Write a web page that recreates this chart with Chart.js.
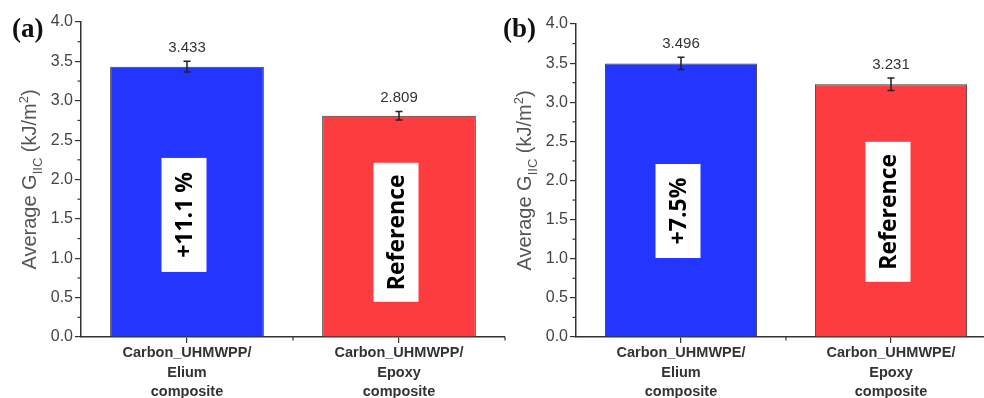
<!DOCTYPE html>
<html>
<head>
<meta charset="utf-8">
<script src="https://cdn.jsdelivr.net/npm/chart.js@4.4.0/dist/chart.umd.min.js"></script>
<style>
  html, body { margin: 0; padding: 0; background: #fff; overflow: hidden; }
  body { width: 984px; height: 398px; position: relative; }
  .panel { position: absolute; top: 0; }
  #wrapA { left: 0; width: 515px; height: 398px; }
  #wrapB { left: 495px; width: 520px; height: 398px; }
</style>
</head>
<body>
<div class="panel" id="wrapA"><canvas id="chartA"></canvas></div>
<div class="panel" id="wrapB"><canvas id="chartB"></canvas></div>
<script>
// data
const categoriesA = [
    ['Carbon_UHMWPP/', 'Elium', 'composite'],
    ['Carbon_UHMWPP/', 'Epoxy', 'composite'],
];
const categoriesB = [
    ['Carbon_UHMWPE/', 'Elium', 'composite'],
    ['Carbon_UHMWPE/', 'Epoxy', 'composite'],
];
const valuesA = [3.433, 2.809];
const valuesB = [3.496, 3.231];
const errorsA = [0.068, 0.055];
const errorsB = [0.078, 0.08];
const notesA = ['+11.1 %', 'Reference'];
const notesB = ['+7.5%', 'Reference'];
const yTicks = [0, 0.5, 1, 1.5, 2, 2.5, 3, 3.5, 4];

const barColors = ['rgb(34,54,255)', 'rgb(252,60,62)'];
const axisColor = '#333';

// note box placement: center (in axis units) and box size in px
const noteBoxA = [{ center: 1.55, h: 114 }, { center: 1.33, h: 139 }];
const noteBoxB = [{ center: 1.61, h: 94 }, { center: 1.60, h: 140 }];

const decorPlugin = {
    id: 'decor',
    afterDatasetsDraw(chart, args, opts) {
        const ctx = chart.ctx;
        const x = chart.scales.x, y = chart.scales.y;
        const meta = chart.getDatasetMeta(0);
        ctx.save();

        // minor ticks on y
        ctx.strokeStyle = axisColor;
        ctx.lineWidth = 1.2;
        for (let i = 0; i < yTicks.length - 1; i++) {
            const py = y.getPixelForValue((yTicks[i] + yTicks[i + 1]) / 2);
            ctx.beginPath();
            ctx.moveTo(x.left, py);
            ctx.lineTo(x.left - 3.5, py);
            ctx.stroke();
        }
        // minor ticks on x at category boundaries
        const n = opts.values.length;
        for (let i = 1; i <= n; i++) {
            const px = x.getPixelForValue(i - 0.5);
            ctx.beginPath();
            ctx.moveTo(px, y.bottom);
            ctx.lineTo(px, y.bottom + 3.5);
            ctx.stroke();
        }

        // error bars and value labels
        opts.values.forEach((v, i) => {
            const cx = meta.data[i].x;
            const top = y.getPixelForValue(v + opts.errors[i]);
            const bot = y.getPixelForValue(v - opts.errors[i]);
            ctx.strokeStyle = '#222';
            ctx.lineWidth = 1.5;
            ctx.beginPath();
            ctx.moveTo(cx, top); ctx.lineTo(cx, bot);
            ctx.moveTo(cx - 3.5, top); ctx.lineTo(cx + 3.5, top);
            ctx.moveTo(cx - 3.5, bot); ctx.lineTo(cx + 3.5, bot);
            ctx.stroke();

            ctx.fillStyle = '#333';
            ctx.font = '15px "Liberation Sans", Arial, sans-serif';
            ctx.textAlign = 'center';
            ctx.textBaseline = 'alphabetic';
            ctx.fillText(v.toFixed(3), cx, top - 9);
        });

        // white note boxes with rotated text
        opts.notes.forEach((txt, i) => {
            const cx = meta.data[i].x - 3;
            const box = opts.boxes[i];
            const cy = y.getPixelForValue(box.center);
            const w = 45;
            ctx.fillStyle = '#fff';
            ctx.fillRect(cx - w / 2, cy - box.h / 2, w, box.h);
            ctx.save();
            ctx.translate(cx, cy);
            ctx.rotate(-Math.PI / 2);
            ctx.fillStyle = '#000';
            ctx.font = 'bold 23px "Open Sans", "Noto Sans", sans-serif';
            ctx.textAlign = 'center';
            ctx.textBaseline = 'middle';
            ctx.fillText(txt, 0, 1);
            ctx.restore();
        });
        ctx.restore();
    },
    afterDraw(chart, args, opts) {
        const ctx = chart.ctx;
        const y = chart.scales.y;
        ctx.save();
        // y axis title with subscript / superscript
        const big = '20px "Liberation Sans", Arial, sans-serif';
        const small = '13px "Liberation Sans", Arial, sans-serif';
        const parts = [
            { t: 'Average G', f: big, dy: 0 },
            { t: 'IIC', f: small, dy: 6 },
            { t: ' (kJ/m', f: big, dy: 0 },
            { t: '2', f: small, dy: -8 },
            { t: ')', f: big, dy: 0 },
        ];
        let total = 0;
        parts.forEach(p => { ctx.font = p.f; p.w = ctx.measureText(p.t).width; total += p.w; });
        ctx.translate(36, (y.top + y.bottom) / 2);
        ctx.rotate(-Math.PI / 2);
        ctx.fillStyle = '#555';
        ctx.textBaseline = 'alphabetic';
        ctx.textAlign = 'left';
        let pos = -total / 2;
        parts.forEach(p => {
            ctx.font = p.f;
            ctx.fillText(p.t, pos, p.dy);
            pos += p.w;
        });
        ctx.restore();

        // panel label
        ctx.save();
        ctx.fillStyle = '#111';
        ctx.font = 'bold 27px "Liberation Serif", "Times New Roman", serif';
        ctx.textAlign = 'left';
        ctx.textBaseline = 'alphabetic';
        ctx.fillText(opts.panel, opts.panelX, 37);
        ctx.restore();
    }
};

function makePanel(canvasId, labels, values, errors, notes, boxes, panel, panelX, top, rightPad) {
    return new Chart(document.getElementById(canvasId), {
        type: 'bar',
        data: {
            labels: labels,
            datasets: [{
                data: values,
                backgroundColor: barColors,
                borderColor: '#3a3a3a',
                borderWidth: 1,
                barPercentage: 0.725,
                categoryPercentage: 1,
            }],
        },
        options: {
            responsive: true,
            maintainAspectRatio: false,
            animation: false,
            layout: { padding: { left: 0, right: rightPad, top: top, bottom: 0 } },
            plugins: {
                legend: { display: false },
                tooltip: { enabled: false },
                decor: { values, errors, notes, boxes, panel, panelX },
            },
            scales: {
                x: {
                    offset: true,
                    grid: { display: true, drawOnChartArea: false, offset: false, tickLength: 6, color: axisColor, lineWidth: 1.2 },
                    border: { color: axisColor, width: 1.5 },
                    ticks: {
                        color: '#333',
                        maxRotation: 0,
                        padding: 0,
                        font: { family: '"Liberation Sans", Arial, sans-serif', weight: 'bold', size: 14.5, lineHeight: 1.36 },
                    },
                    afterFit(scale) { scale.height = 398 - 337; },
                },
                y: {
                    min: 0,
                    max: 4,
                    afterBuildTicks(scale) { scale.ticks = yTicks.map(v => ({ value: v })); },
                    grid: { display: true, drawOnChartArea: false, tickLength: 6, color: axisColor, lineWidth: 1.2 },
                    border: { color: axisColor, width: 1.5 },
                    ticks: {
                        color: '#444',
                        padding: 2,
                        font: { family: '"Liberation Sans", Arial, sans-serif', size: 16 },
                        callback: v => Number(v).toFixed(1),
                    },
                    afterFit(scale) { scale.width = 81; },
                },
            },
        },
        plugins: [decorPlugin],
    });
}

makePanel('chartA', categoriesA, valuesA, errorsA, notesA, noteBoxA, '(a)', 12, 22, 10);
makePanel('chartB', categoriesB, valuesB, errorsB, notesB, noteBoxB, '(b)', 8, 24, 19);
</script>
</body>
</html>
